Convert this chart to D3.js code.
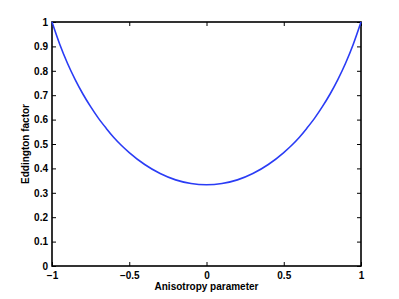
<!DOCTYPE html>
<html>
<head>
<meta charset="utf-8">
<script src="https://cdn.jsdelivr.net/npm/d3@7"></script>
<style>
body { margin: 0; background: #fff; }
svg text { font-family: "Liberation Sans", Arial, sans-serif; font-weight: bold; fill: #000; }
</style>
</head>
<body>
<svg width="399" height="299"></svg>
<script>
// Eddington factor vs anisotropy parameter

const anisotropy = [-1, -0.95, -0.9, -0.85, -0.8, -0.75, -0.7, -0.65, -0.6, -0.55, -0.5, -0.4, -0.3, -0.2, -0.1,
	0, 0.1, 0.2, 0.3, 0.4, 0.5, 0.55, 0.6, 0.65, 0.7, 0.75, 0.8, 0.85, 0.9, 0.95, 1]
const eddington = [1, 0.909, 0.831, 0.764, 0.705, 0.653, 0.606, 0.565, 0.527, 0.494, 0.465, 0.416, 0.379, 0.353, 0.338,
	0.333, 0.338, 0.353, 0.379, 0.416, 0.465, 0.494, 0.527, 0.565, 0.606, 0.653, 0.705, 0.764, 0.831, 0.909, 1]
const xTicks = [-1, -0.5, 0, 0.5, 1]
const yTicks = [0, 0.1, 0.2, 0.3, 0.4, 0.5, 0.6, 0.7, 0.8, 0.9, 1]

const margin = {top: 22, right: 38, bottom: 33, left: 52}
const svg = d3.select('svg')
const width = +svg.attr('width') - margin.left - margin.right
const height = +svg.attr('height') - margin.top - margin.bottom

const g = svg.append('g')
	.attr('transform', 'translate(' + margin.left + ',' + margin.top + ')')

const x = d3.scaleLinear().domain([-1, 1]).range([0, width])
const y = d3.scaleLinear().domain([0, 1]).range([height, 0])

const fmt = d => d === 0 ? '0' : String(d).replace('-', '\u2212')

function styleAxis(sel, labels) {
	sel.select('.domain').remove()
	sel.selectAll('line').attr('stroke', '#000').attr('stroke-width', 1)
	sel.selectAll('text').attr('font-size', 10)
	if (!labels) sel.selectAll('text').remove()
}

// ticks point inward, on all four sides
g.append('g').attr('transform', 'translate(0,' + height + ')')
	.call(d3.axisBottom(x).tickValues(xTicks).tickSizeInner(-4).tickSizeOuter(0).tickPadding(6).tickFormat(fmt))
	.call(s => styleAxis(s, true))
g.append('g')
	.call(d3.axisTop(x).tickValues(xTicks).tickSizeInner(-4).tickSizeOuter(0))
	.call(s => styleAxis(s, false))
g.append('g')
	.call(d3.axisLeft(y).tickValues(yTicks).tickSizeInner(-4).tickSizeOuter(0).tickPadding(4).tickFormat(fmt))
	.call(s => styleAxis(s, true))
g.append('g').attr('transform', 'translate(' + width + ',0)')
	.call(d3.axisRight(y).tickValues(yTicks).tickSizeInner(-4).tickSizeOuter(0))
	.call(s => styleAxis(s, false))

g.append('rect')
	.attr('width', width).attr('height', height)
	.attr('fill', 'none').attr('stroke', '#000').attr('stroke-width', 1.6)

const data = anisotropy.map((a, i) => ({x: a, y: eddington[i]}))
const line = d3.line()
	.x(d => x(d.x))
	.y(d => y(d.y))
	.curve(d3.curveMonotoneX)

g.append('path').datum(data)
	.attr('fill', 'none')
	.attr('stroke', '#2a3cf5')
	.attr('stroke-width', 1.6)
	.attr('d', line)

g.append('text')
	.attr('x', width / 2).attr('y', height + 24)
	.attr('text-anchor', 'middle').attr('font-size', 10)
	.text('Anisotropy parameter')
g.append('text')
	.attr('transform', 'translate(-23,' + height / 2 + ') rotate(-90)')
	.attr('text-anchor', 'middle').attr('font-size', 10)
	.text('Eddington factor')
</script>
</body>
</html>
